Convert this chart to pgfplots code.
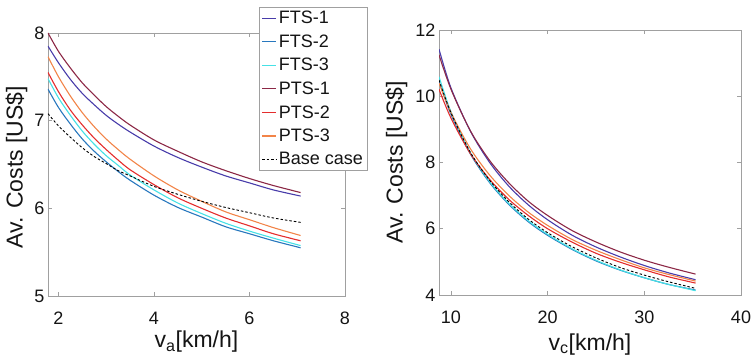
\documentclass[border=0pt]{standalone}
\usepackage{pgfplots}
\pgfplotsset{compat=1.18}
\usepackage{fontspec}
\setmainfont{Liberation Sans}
\definecolor{fts1}{RGB}{72,60,170}
\definecolor{fts2}{RGB}{40,120,190}
\definecolor{fts3}{RGB}{70,225,230}
\definecolor{pts1}{RGB}{140,40,70}
\definecolor{pts2}{RGB}{228,45,45}
\definecolor{pts3}{RGB}{242,132,72}
\definecolor{axgray}{RGB}{160,160,160}
\definecolor{txt}{RGB}{20,20,20}
\pgfplotsset{
  mystyle/.style={
    scale only axis, anchor=south west,
    axis line style={draw=axgray, line width=0.7pt},
    tick style={draw=axgray, line width=0.7pt},
    major tick length=4pt,
    tick label style={font=\fontsize{18}{20}\selectfont, text=txt},
    label style={font=\fontsize{23}{26}\selectfont, text=txt},
    /pgf/number format/assume math mode=true,
    xticklabel style={anchor=base, yshift=-28pt},
    every axis plot/.append style={line width=1.1pt, smooth},
  }
}
\begin{document}
\begin{tikzpicture}[x=1pt,y=1pt]
\useasboundingbox (0,0) rectangle (755,364);
\begin{axis}[mystyle, at={(48pt,68pt)}, width=297pt, height=263pt,
  xmin=1.78, xmax=8, ymin=5, ymax=8,
  xtick={2,4,6,8}, ytick={5,6,7,8},
  xlabel={v\textsubscript{a}[km/h]},
  ylabel={Av. Costs [US\$]},
  xlabel style={at={(axis description cs:0.5,0)}, anchor=base, yshift=-52pt},
  ylabel style={at={(axis description cs:-0.106,0.49)}, anchor=center, rotate=0},
  legend cell align=left,
  legend image code/.code={\draw[mark repeat=2,mark phase=2,#1] plot coordinates {(0pt,0pt) (7pt,0pt) (14pt,0pt)};},
  legend style={at={(0.712,1.099)}, anchor=north west, draw=axgray,
    font=\fontsize{18}{22}\selectfont, inner sep=2pt, row sep=5.5pt},
]
\addplot[color=fts1] coordinates {(1.78,7.85)(2,7.66)(2.25,7.47)(2.5,7.31)(2.75,7.18)(3,7.06)(3.25,6.96)(3.5,6.87)(4,6.71)(4.5,6.58)(5,6.47)(5.5,6.37)(6,6.29)(6.5,6.21)(7.07,6.14)};
\addlegendentry{\color{txt}FTS-1}
\addplot[color=fts2] coordinates {(1.78,7.36)(2,7.15)(2.25,6.96)(2.5,6.79)(2.75,6.65)(3,6.53)(3.25,6.42)(3.5,6.32)(4,6.15)(4.5,6.01)(5,5.90)(5.5,5.79)(6,5.71)(6.5,5.63)(7.07,5.55)};
\addlegendentry{\color{txt}FTS-2}
\addplot[color=fts3] coordinates {(1.78,7.48)(2,7.26)(2.25,7.06)(2.5,6.88)(2.75,6.73)(3,6.60)(3.25,6.49)(3.5,6.38)(4,6.21)(4.5,6.06)(5,5.94)(5.5,5.83)(6,5.74)(6.5,5.66)(7.07,5.575)};
\addlegendentry{\color{txt}FTS-3}
\addplot[color=pts1] coordinates {(1.78,8.00)(2,7.79)(2.25,7.60)(2.5,7.43)(2.75,7.29)(3,7.16)(3.25,7.05)(3.5,6.95)(4,6.78)(4.5,6.65)(5,6.53)(5.5,6.43)(6,6.34)(6.5,6.26)(7.07,6.18)};
\addlegendentry{\color{txt}PTS-1}
\addplot[color=pts2] coordinates {(1.78,7.55)(2,7.33)(2.25,7.12)(2.5,6.95)(2.75,6.80)(3,6.67)(3.25,6.55)(3.5,6.44)(4,6.27)(4.5,6.12)(5,6.00)(5.5,5.89)(6,5.80)(6.5,5.71)(7.07,5.63)};
\addlegendentry{\color{txt}PTS-2}
\addplot[color=pts3] coordinates {(1.78,7.73)(2,7.50)(2.25,7.28)(2.5,7.09)(2.75,6.93)(3,6.79)(3.25,6.67)(3.5,6.56)(4,6.37)(4.5,6.21)(5,6.08)(5.5,5.96)(6,5.87)(6.5,5.78)(7.07,5.69)};
\addlegendentry{\color{txt}PTS-3}
\addplot[color=black, line width=0.9pt, dash pattern=on 2.5pt off 2pt] coordinates {(1.78,7.08)(2,6.94)(2.25,6.81)(2.5,6.69)(2.75,6.59)(3,6.51)(3.25,6.43)(3.5,6.37)(4,6.25)(4.5,6.16)(5,6.08)(5.5,6.01)(6,5.95)(6.5,5.89)(7.07,5.84)};
\addlegendentry{\color{txt}Base case}
\end{axis}
\begin{axis}[mystyle, at={(439pt,69pt)}, width=302pt, height=265pt,
  xmin=8.76, xmax=40, ymin=4, ymax=12,
  xtick={10,20,30,40}, ytick={4,6,8,10,12},
  xlabel={v\textsubscript{c}[km/h]},
  ylabel={Av. Costs [US\$]},
  xlabel style={at={(axis description cs:0.5,0)}, anchor=base, yshift=-55pt},
  ylabel style={at={(axis description cs:-0.141,0.5)}, anchor=center, rotate=0},
]
\addplot[color=fts1] coordinates {(8.76,11.42)(10,10.25)(12,8.95)(14,8.00)(16,7.28)(18,6.72)(20,6.27)(22.5,5.81)(25,5.45)(27.5,5.15)(30,4.89)(32.5,4.67)(35.3,4.46)};
\addplot[color=fts2] coordinates {(8.76,10.45)(10,9.45)(12,8.26)(14,7.39)(16,6.73)(18,6.21)(20,5.80)(22.5,5.38)(25,5.03)(27.5,4.75)(30,4.52)(32.5,4.32)(35.3,4.15)};
\addplot[color=fts3] coordinates {(8.76,10.59)(10,9.53)(12,8.30)(14,7.42)(16,6.76)(18,6.24)(20,5.83)(22.5,5.40)(25,5.05)(27.5,4.76)(30,4.52)(32.5,4.32)(35.3,4.13)};
\addplot[color=pts1] coordinates {(8.76,11.25)(10,10.21)(12,8.96)(14,8.06)(16,7.38)(18,6.83)(20,6.40)(22.5,5.95)(25,5.60)(27.5,5.30)(30,5.05)(32.5,4.84)(35.3,4.63)};
\addplot[color=pts2] coordinates {(8.76,10.21)(10,9.34)(12,8.27)(14,7.49)(16,6.88)(18,6.40)(20,6.00)(22.5,5.60)(25,5.26)(27.5,4.99)(30,4.76)(32.5,4.55)(35.3,4.36)};
\addplot[color=pts3] coordinates {(8.76,10.40)(10,9.51)(12,8.42)(14,7.62)(16,7.00)(18,6.50)(20,6.10)(22.5,5.68)(25,5.35)(27.5,5.07)(30,4.82)(32.5,4.62)(35.3,4.42)};
\addplot[color=black, line width=0.9pt, dash pattern=on 2.5pt off 2pt] coordinates {(8.76,10.49)(10,9.50)(12,8.31)(14,7.46)(16,6.81)(18,6.29)(20,5.88)(22.5,5.46)(25,5.12)(27.5,4.83)(30,4.60)(32.5,4.40)(35.3,4.20)};
\end{axis}
\end{tikzpicture}
\end{document}
